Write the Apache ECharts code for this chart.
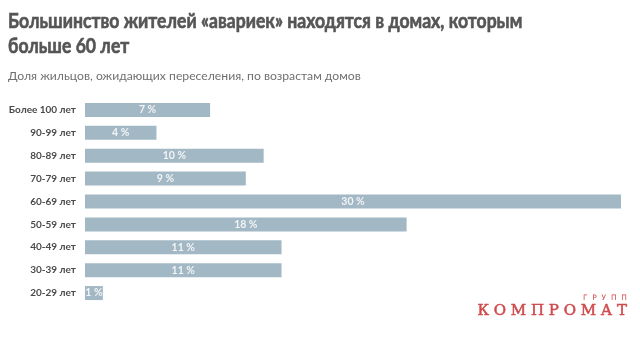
<!DOCTYPE html>
<html><head><meta charset="utf-8">
<script src="https://cdn.jsdelivr.net/npm/echarts@6/dist/echarts.min.js"></script>
<style>html,body{margin:0;padding:0;background:#fff}#c{width:640px;height:339px}</style>
</head><body><div id="c"></div>
<script>
const categories = ['Более 100 лет','90-99 лет','80-89 лет','70-79 лет','60-69 лет','50-59 лет','40-49 лет','30-39 лет','20-29 лет'];
const values = [7,4,10,9,30,18,11,11,1];
const titleLine1 = 'Большинство жителей «авариек» находятся в домах, которым';
const titleLine2 = 'больше 60 лет';
const subtitleText = 'Доля жильцов, ожидающих переселения, по возрастам домов';

const chart = echarts.init(document.getElementById('c'), null, {renderer:'canvas'});
const tStyle = {fontFamily:'Lato',fontWeight:'bold',fontSize:20,fill:'#555',stroke:'#555',lineWidth:0.6,verticalAlign:'middle',align:'left'};
chart.setOption({
  animation:false,
  backgroundColor:'#fff',
  grid:{left:85,right:19,top:98.5,bottom:34.5,containLabel:false},
  xAxis:{type:'value',min:0,max:30,show:false},
  yAxis:{type:'category',data:categories,inverse:true,
    axisLine:{show:false},axisTick:{show:false},
    axisLabel:{margin:9,fontFamily:'Lato',fontWeight:'bold',fontSize:10,color:'#4a4a4a'}},
  series:[{type:'bar',data:values,barWidth:14,
    itemStyle:{color:'#a3b8c5'},
    label:{show:true,position:'inside',formatter:'{c} %',fontFamily:'Lato',fontWeight:'bold',fontSize:10.5,color:'#f2f4f5'}
  }],
  graphic:[
    {type:'text',id:'t1',x:8,y:22,scaleX:0.88,style:Object.assign({text:titleLine1},tStyle)},
    {type:'text',id:'t2',x:8,y:47,scaleX:0.88,style:Object.assign({text:titleLine2},tStyle)},
    {type:'text',id:'st',x:8,y:76,style:{text:subtitleText,fontFamily:'Lato',fontSize:12.2,fill:'#707070',verticalAlign:'middle',align:'left'}},
    {type:'text',id:'w1',x:627,y:298.5,style:{text:'Г  Р  У  П  П',fontFamily:'DejaVu Sans',fontSize:7.5,fill:'#d04a4c',align:'right',verticalAlign:'middle'}},
    {type:'text',id:'w2',x:627,y:311,style:{text:'К О М П Р О М А Т',fontFamily:'DejaVu Serif',fontSize:15,fill:'#d04a4c',stroke:'#d04a4c',lineWidth:0.5,align:'right',verticalAlign:'middle'}}
  ]
});
</script></body></html>
